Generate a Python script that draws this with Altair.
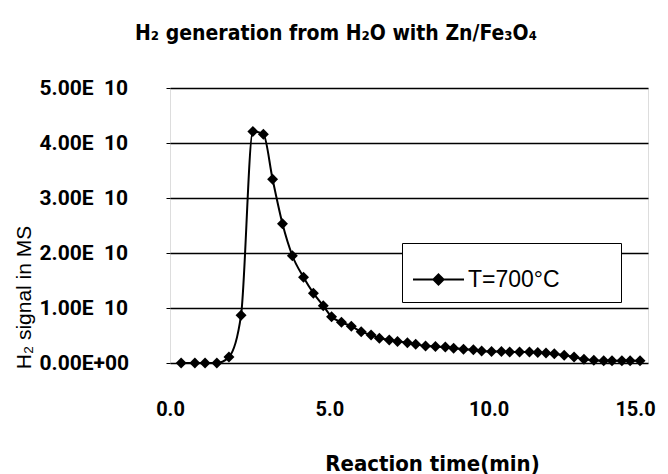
import altair as alt
import pandas as pd

# Reaction time (min)
time_min = [0.35, 0.78, 1.10, 1.47, 1.85, 2.23, 2.60, 2.93, 3.22, 3.53,
            3.84, 4.19, 4.50, 4.81, 5.07, 5.38, 5.69, 6.00, 6.31, 6.57,
            6.88, 7.14, 7.45, 7.71, 8.02, 8.33, 8.64, 8.90, 9.21, 9.52,
            9.78, 10.09, 10.40, 10.66, 10.97, 11.28, 11.54, 11.80, 12.06, 12.37,
            12.68, 12.99, 13.30, 13.61, 13.87, 14.18, 14.44, 14.75]
# H2 signal in MS, in units of 1E-10
signal_e10 = [0.0, 0.0, 0.0, 0.0, 0.11, 0.87, 4.21, 4.16, 3.34, 2.53,
              1.95, 1.56, 1.27, 1.04, 0.84, 0.74, 0.67, 0.57, 0.51, 0.45,
              0.42, 0.39, 0.37, 0.34, 0.31, 0.30, 0.29, 0.27, 0.25, 0.24,
              0.22, 0.21, 0.21, 0.20, 0.20, 0.20, 0.19, 0.18, 0.17, 0.14,
              0.11, 0.07, 0.05, 0.04, 0.04, 0.04, 0.04, 0.04]
series_name = "T=700\u00b0C"
x_ticks = [0, 5, 10, 15]
y_ticks = [0, 1e-10, 2e-10, 3e-10, 4e-10, 5e-10]

df = pd.DataFrame({
    "t": time_min,
    "s": [v * 1e-10 for v in signal_e10],
    "series": series_name,
})

BOLD = "'DejaVu Sans Condensed', Roboto, sans-serif"
NUM = "Roboto, 'DejaVu Sans Condensed', sans-serif"
REG = "'Liberation Sans', Arial, sans-serif"

xenc = alt.X("t:Q", scale=alt.Scale(domain=[0, 15], nice=False, zero=False),
             axis=alt.Axis(values=x_ticks, format=".1f", grid=False, ticks=False,
                           labelFlush=False,
                           labelOffset=alt.condition("datum.value == 15",
                                                     alt.value(-13),
                                                     alt.value(0)),
                           labelPadding=36, labelFont=NUM, labelFontWeight="bold",
                           labelFontSize=20, labelColor="black",
                           title="Reaction time(min)", titleFont=BOLD,
                           titleFontWeight="bold", titleFontSize=22, titleColor="black",
                           titleX=262, titleY=107, titleBaseline="alphabetic",
                           domain=False))
yenc = alt.Y("s:Q", scale=alt.Scale(domain=[0, 5e-10], nice=False),
             axis=alt.Axis(values=y_ticks,
                           labelExpr="datum.value == 0 ? '0.00E+00' : format(datum.value*1e10, '.2f') + 'E\u00a0\u00a010'",
                           grid=True, gridColor="black", gridWidth=1.5, gridOpacity=1,
                           ticks=True, tickSize=4, tickColor="black",
                           labelAlign="left", labelPadding=127,
                           labelFont=NUM, labelFontWeight="bold", labelFontSize=21,
                           labelColor="black", domain=False,
                           title="H\u2082 signal in MS", titleFont=REG,
                           titleFontWeight="normal", titleFontSize=21, titleColor="black",
                           titleAngle=270, titleX=-146, titleY=209,
                           titleBaseline="middle", titleAlign="center"))

line = alt.Chart(df).mark_line(color="black", strokeWidth=2, interpolate="monotone").encode(
    x=xenc, y=yenc
)

legend = alt.Legend(
    title=None, orient="none", legendX=232, legendY=155,
    symbolType="M-1,0L1,0M0,-0.2L0.2,0L0,0.2L-0.2,0Z",
    symbolSize=2601, symbolStrokeWidth=2, symbolStrokeColor="black",
    symbolFillColor="black",
    labelFont=REG, labelFontSize=23, labelColor="black", labelOffset=3,
    labelExpr="datum.label + '\u2800\u2800\u2800'",
    labelLimit=400,
    padding=10, strokeColor="black", fillColor="white",
)

points = alt.Chart(df).mark_point(shape="diamond", filled=True, size=120, opacity=1).encode(
    x=xenc, y=yenc,
    color=alt.Color("series:N", scale=alt.Scale(range=["black"]), legend=legend),
)

chart = alt.layer(line, points).properties(
    width=478, height=275,
    autosize=alt.AutoSizeParams(type="none"),
    padding={"left": 162, "top": 80, "right": 12, "bottom": 111},
    title=alt.TitleParams(text="H\u2082 generation from H\u2082O with Zn/Fe\u2083O\u2084",
                          font=BOLD, fontWeight="bold", fontSize=21, color="black",
                          anchor="middle", dx=-73, offset=33),
).configure_view(stroke="black", strokeWidth=1.5, fill="white").configure(background="white")

chart.save("out.html", embed_options={"renderer": "svg", "actions": False})
